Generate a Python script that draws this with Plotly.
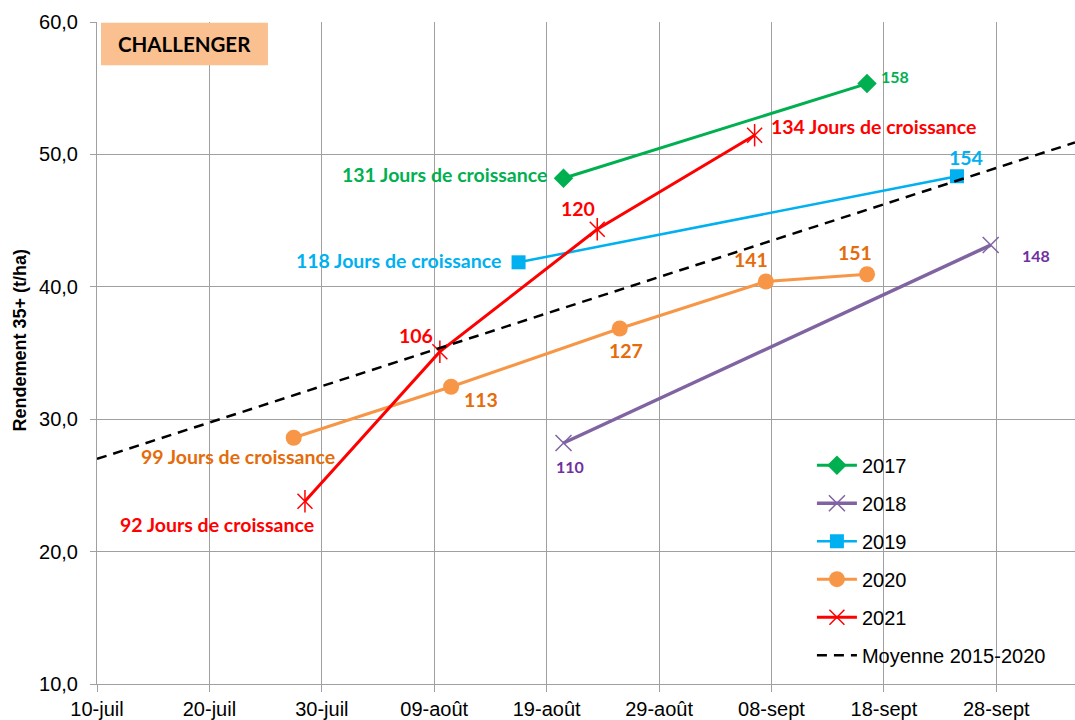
import plotly.graph_objects as go
import pandas as pd

# ---- data ----
dates_2017 = ["2021-08-20", "2021-09-16"]
vals_2017 = [48.2, 55.35]
days_2017 = ["131 Jours de croissance", "158"]

dates_2018 = ["2021-08-20", "2021-09-27"]
vals_2018 = [28.2, 43.15]
days_2018 = ["110", "148"]

dates_2019 = ["2021-08-16", "2021-09-24"]
vals_2019 = [41.85, 48.35]
days_2019 = ["118 Jours de croissance", "154"]

dates_2020 = ["2021-07-27", "2021-08-10", "2021-08-25", "2021-09-07", "2021-09-16"]
vals_2020 = [28.6, 32.45, 36.85, 40.4, 40.95]
days_2020 = ["99 Jours de croissance", "113", "127", "141", "151"]

dates_2021 = ["2021-07-28", "2021-08-09", "2021-08-23", "2021-09-06"]
vals_2021 = [23.8, 35.1, 44.35, 51.45]
days_2021 = ["92 Jours de croissance", "106", "120", "134 Jours de croissance"]

trend_dates = ["2021-07-10", "2021-10-05"]
trend_vals = [27.0, 50.9]

tick_dates = ["2021-07-10", "2021-07-20", "2021-07-30", "2021-08-09", "2021-08-19",
              "2021-08-29", "2021-09-08", "2021-09-18", "2021-09-28"]
tick_labels = ["10-juil", "20-juil", "30-juil", "09-août", "19-août",
               "29-août", "08-sept", "18-sept", "28-sept"]

# Excel date axis places points in the middle of each day
def mid(d):
    return pd.to_datetime(d) + pd.Timedelta(hours=12)

GREEN = "#00B050"
PURPLE = "#8064A2"
PURPLE_T = "#7030A0"
BLUE = "#00B0F0"
ORANGE = "#F79646"
ORANGE_T = "#E46C0A"
RED = "#FF0000"

fig = go.Figure()

fig.add_trace(go.Scatter(x=mid(dates_2017), y=vals_2017, name="2017", mode="lines+markers",
                         line=dict(color=GREEN, width=3), legendgroup="a",
                         marker=dict(symbol="diamond", size=15, color=GREEN)))
fig.add_trace(go.Scatter(x=mid(dates_2018), y=vals_2018, name="2018", mode="lines+markers",
                         line=dict(color=PURPLE, width=3.5), legendgroup="b",
                         marker=dict(symbol="x-thin-open", size=16, color=PURPLE,
                                     line=dict(width=1.5, color=PURPLE))))
fig.add_trace(go.Scatter(x=mid(dates_2019), y=vals_2019, name="2019", mode="lines+markers",
                         line=dict(color=BLUE, width=2.5), legendgroup="c",
                         marker=dict(symbol="square", size=14, color=BLUE)))
fig.add_trace(go.Scatter(x=mid(dates_2020), y=vals_2020, name="2020", mode="lines+markers",
                         line=dict(color=ORANGE, width=3), legendgroup="d",
                         marker=dict(symbol="circle", size=16, color=ORANGE)))
fig.add_trace(go.Scatter(x=mid(dates_2021), y=vals_2021, name="2021", mode="lines+markers",
                         line=dict(color=RED, width=3), legendgroup="e",
                         marker=dict(symbol="x-thin-open", size=15, color=RED,
                                     line=dict(width=1.5, color=RED))))
fig.add_trace(go.Scatter(x=mid(dates_2021), y=vals_2021, mode="markers", showlegend=False,
                         legendgroup="e", hoverinfo="skip",
                         marker=dict(symbol="line-ns-open", size=16, color=RED,
                                     line=dict(width=1.5, color=RED))))
fig.add_trace(go.Scatter(x=pd.to_datetime(trend_dates), y=trend_vals, name="Moyenne 2015-2020",
                         mode="lines", legendgroup="f",
                         line=dict(color="black", width=2.5, dash="10px,7px")))

LAB = "Lato"
big = 19.5
small = 16

def lab(d, v, text, color, xs, ys, anchor="center", size=big):
    fig.add_annotation(x=mid(d), y=v, text="<b>%s</b>" % text, showarrow=False,
                       xanchor=anchor, yanchor="middle", xshift=xs, yshift=ys,
                       font=dict(family=LAB, size=size, color=color))

# 2017
lab(dates_2017[0], vals_2017[0], days_2017[0], GREEN, -15, 4, "right")
lab(dates_2017[1], vals_2017[1], days_2017[1], GREEN, 12, 7, "left", small)
# 2018
lab(dates_2018[0], vals_2018[0], days_2018[0], PURPLE_T, 6, -23, "center", small)
lab(dates_2018[1], vals_2018[1], days_2018[1], PURPLE_T, 29, -10, "left", small)
# 2019
lab(dates_2019[0], vals_2019[0], days_2019[0], BLUE, -16, 2, "right")
lab(dates_2019[1], vals_2019[1], days_2019[1], BLUE, 9, 19, "center")
# 2020
offs_2020 = [(-56, -19), (30, -13), (6, -22), (-15, 22), (-12, 22)]
for d, v, t, (xs, ys) in zip(dates_2020, vals_2020, days_2020, offs_2020):
    lab(d, v, t, ORANGE_T, xs, ys, "center")
# 2021
offs_2021 = [(-88, -23, "center"), (-24, 16, "center"), (-19, 21, "center"), (14, 9, "left")]
for d, v, t, (xs, ys, a) in zip(dates_2021, vals_2021, days_2021, offs_2021):
    lab(d, v, t, RED, xs, ys, a)

# title box
fig.add_shape(type="rect", xref="paper", yref="paper", x0=0.0041, x1=0.1748, y0=0.9346, y1=0.999,
              fillcolor="#FAC090", line=dict(width=0), layer="above")
fig.add_annotation(xref="paper", yref="paper", x=0.0895, y=0.967, text="<b>CHALLENGER</b>",
                   showarrow=False, xanchor="center", yanchor="middle",
                   font=dict(family=LAB, size=20.5, color="black"))

# y title
fig.add_annotation(xref="paper", yref="paper", x=-0.0787, y=0.519, text="<b>Rendement 35+ (t/ha)</b>",
                   showarrow=False, textangle=-90, xanchor="center", yanchor="middle",
                   font=dict(family="Liberation Sans, Arial", size=18, color="black"))

GRID = "#A0A0A0"
fig.update_layout(
    width=1075, height=720,
    margin=dict(l=97, r=0, t=22, b=36),
    paper_bgcolor="white", plot_bgcolor="white",
    separators=", ",
    font=dict(family="Liberation Sans, Arial", size=20, color="black"),
    showlegend=True,
    legend=dict(x=0.731, y=0.36, xanchor="left", yanchor="top", bgcolor="rgba(0,0,0,0)",
                tracegroupgap=9, font=dict(size=20), itemwidth=40),
    xaxis=dict(type="date", range=[pd.to_datetime("2021-07-10"), pd.to_datetime("2021-10-05")],
               tickvals=pd.to_datetime(tick_dates), ticktext=tick_labels,
               showgrid=True, gridcolor=GRID, gridwidth=1,
               showline=True, linecolor=GRID, linewidth=1, automargin=False,
               ticks="outside", ticklen=7, tickcolor=GRID, zeroline=False),
    yaxis=dict(range=[10, 60], dtick=10, tick0=10, tickformat=".1f",
               showgrid=True, gridcolor=GRID, gridwidth=1, automargin=False,
               showline=True, linecolor=GRID, linewidth=1,
               ticks="outside", ticklen=6, tickcolor=GRID, zeroline=False,
               ticklabelstandoff=8),
)

fig.write_html("out.html", config={"displayModeBar": False},
               post_script="document.body.style.margin='0px';")
